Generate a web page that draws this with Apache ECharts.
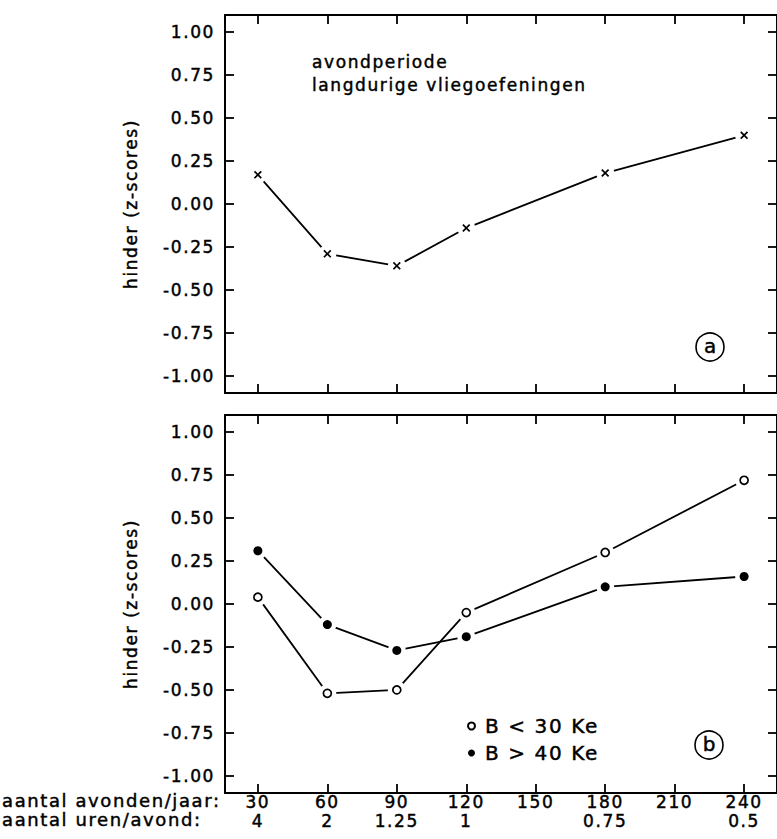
<!DOCTYPE html>
<html>
<head>
<meta charset="utf-8">
<script src="https://cdn.jsdelivr.net/npm/echarts@6/dist/echarts.min.js"></script>
<style>
  html, body { margin: 0; padding: 0; background: #fff; }
  #main { width: 777px; height: 839px; }
  #main text { letter-spacing: 1.6px; stroke: #000; stroke-width: 0.45px; }
</style>
</head>
<body>
<div id="main"></div>
<script>
// ---- data ----
const evenings = [30, 60, 90, 120, 180, 240];            // aantal avonden/jaar
const xTicks = [30, 60, 90, 120, 150, 180, 210, 240];
const hoursLabels = ['4', '2', '1.25', '1', '', '0.75', '', '0.5']; // aantal uren/avond
const yTicks = [-1, -0.75, -0.5, -0.25, 0, 0.25, 0.5, 0.75, 1];
const panelA = [0.17, -0.29, -0.36, -0.14, 0.18, 0.40];   // langdurige vliegoefeningen
const bLow = [0.04, -0.52, -0.50, -0.05, 0.30, 0.72];     // B < 30 Ke
const bHigh = [0.31, -0.12, -0.27, -0.19, 0.10, 0.16];    // B > 40 Ke

const FONT = 'DejaVu Sans';
const INK = '#000';

function pts(vals) { return evenings.map((x, i) => [x, vals[i]]); }

function xAxis(grid, pos, labels) {
  return {
    type: 'value', gridIndex: grid, position: pos,
    min: 15.8, max: 254.2,
    axisLine: { show: true, onZero: false, lineStyle: { color: INK, width: 2 } },
    axisTick: { show: true, inside: true, length: 9, customValues: xTicks, lineStyle: { color: INK, width: 1.8 } },
    axisLabel: labels ? {
      show: true, customValues: xTicks, margin: -1,
      fontFamily: FONT, fontSize: 17, color: INK, lineHeight: 19,
      formatter: v => v + '\n' + hoursLabels[xTicks.indexOf(v)]
    } : { show: false },
    splitLine: { show: false }
  };
}
function yAxis(grid, pos, labels) {
  return {
    type: 'value', gridIndex: grid, position: pos,
    min: -1.1, max: 1.1,
    name: labels ? 'hinder (z-scores)' : '',
    nameLocation: 'middle', nameGap: 86,
    nameTextStyle: { fontFamily: FONT, fontSize: 17, color: INK },
    axisLine: { show: true, onZero: false, lineStyle: { color: INK, width: 2 } },
    axisTick: { show: true, inside: true, length: 9, customValues: yTicks, lineStyle: { color: INK, width: 1.8 } },
    axisLabel: labels ? {
      show: true, customValues: yTicks, margin: 10,
      fontFamily: FONT, fontSize: 17, color: INK,
      formatter: v => v.toFixed(2)
    } : { show: false },
    splitLine: { show: false }
  };
}

function lineSeries(ax, vals) {
  return { type: 'line', xAxisIndex: ax, yAxisIndex: ax, data: pts(vals), showSymbol: false,
           symbol: 'none', lineStyle: { color: INK, width: 1.8 }, z: 2, silent: true };
}
function haloSeries(ax, vals) {
  return { type: 'scatter', xAxisIndex: ax, yAxisIndex: ax, data: pts(vals), symbol: 'circle',
           symbolSize: 18, itemStyle: { color: '#fff', opacity: 1 }, z: 3, silent: true };
}

const crossPath = 'path://M0,1.5L1.5,0L5,3.5L8.5,0L10,1.5L6.5,5L10,8.5L8.5,10L5,6.5L1.5,10L0,8.5L3.5,5Z';

const option = {
  backgroundColor: '#fff',
  animation: false,
  title: {
    text: 'avondperiode\nlangdurige vliegoefeningen',
    left: 312, top: 50, padding: 0,
    textStyle: { fontFamily: FONT, fontSize: 17, fontWeight: 'normal', color: INK, lineHeight: 23 }
  },
  legend: {
    data: ['B < 30 Ke', 'B > 40 Ke'],
    orient: 'vertical', left: 462, top: 711, itemGap: 7,
    icon: 'circle', itemWidth: 7, itemHeight: 7,
    textStyle: { fontFamily: FONT, fontSize: 20, color: INK, padding: [0, 0, 0, 5] }
  },
  grid: [
    { left: 225, right: -2, top: 15, height: 378 },
    { left: 225, right: -2, top: 415, height: 378 }
  ],
  xAxis: [
    xAxis(0, 'bottom', false), xAxis(0, 'top', false),
    xAxis(1, 'bottom', true), xAxis(1, 'top', false)
  ],
  yAxis: [
    yAxis(0, 'left', true), yAxis(0, 'right', false),
    yAxis(1, 'left', true), yAxis(1, 'right', false)
  ],
  series: [
    lineSeries(0, panelA), haloSeries(0, panelA),
    { type: 'scatter', name: 'avondperiode', xAxisIndex: 0, yAxisIndex: 0, data: pts(panelA),
      symbol: crossPath, symbolSize: 8, itemStyle: { color: INK, opacity: 1 }, z: 4 },

    lineSeries(2, bLow), haloSeries(2, bLow),
    lineSeries(2, bHigh), haloSeries(2, bHigh),
    { type: 'scatter', name: 'B < 30 Ke', xAxisIndex: 2, yAxisIndex: 2, data: pts(bLow),
      symbol: 'circle', symbolSize: 8, itemStyle: { color: '#fff', borderColor: INK, borderWidth: 1.7, opacity: 1 }, z: 4 },
    { type: 'scatter', name: 'B > 40 Ke', xAxisIndex: 2, yAxisIndex: 2, data: pts(bHigh),
      symbol: 'circle', symbolSize: 9, itemStyle: { color: INK, opacity: 1 }, z: 4 }
  ],
  graphic: [
    { type: 'text', left: 2, top: 791, style: { text: 'aantal avonden/jaar:', font: '18px "DejaVu Sans"', fill: INK } },
    { type: 'text', left: 2, top: 810, style: { text: 'aantal uren/avond:', font: '18px "DejaVu Sans"', fill: INK } },
    { type: 'circle', shape: { cx: 710, cy: 347, r: 14 }, style: { fill: 'none', stroke: INK, lineWidth: 1.6 } },
    { type: 'text', x: 711, y: 346, style: { text: 'a', font: '20px "DejaVu Sans"', fill: INK, align: 'center', verticalAlign: 'middle' } },
    { type: 'circle', shape: { cx: 709, cy: 745, r: 14 }, style: { fill: 'none', stroke: INK, lineWidth: 1.6 } },
    { type: 'text', x: 710, y: 744, style: { text: 'b', font: '20px "DejaVu Sans"', fill: INK, align: 'center', verticalAlign: 'middle' } }
  ]
};

const chart = echarts.init(document.getElementById('main'), null, { renderer: 'svg' });
chart.setOption(option);
</script>
</body>
</html>
